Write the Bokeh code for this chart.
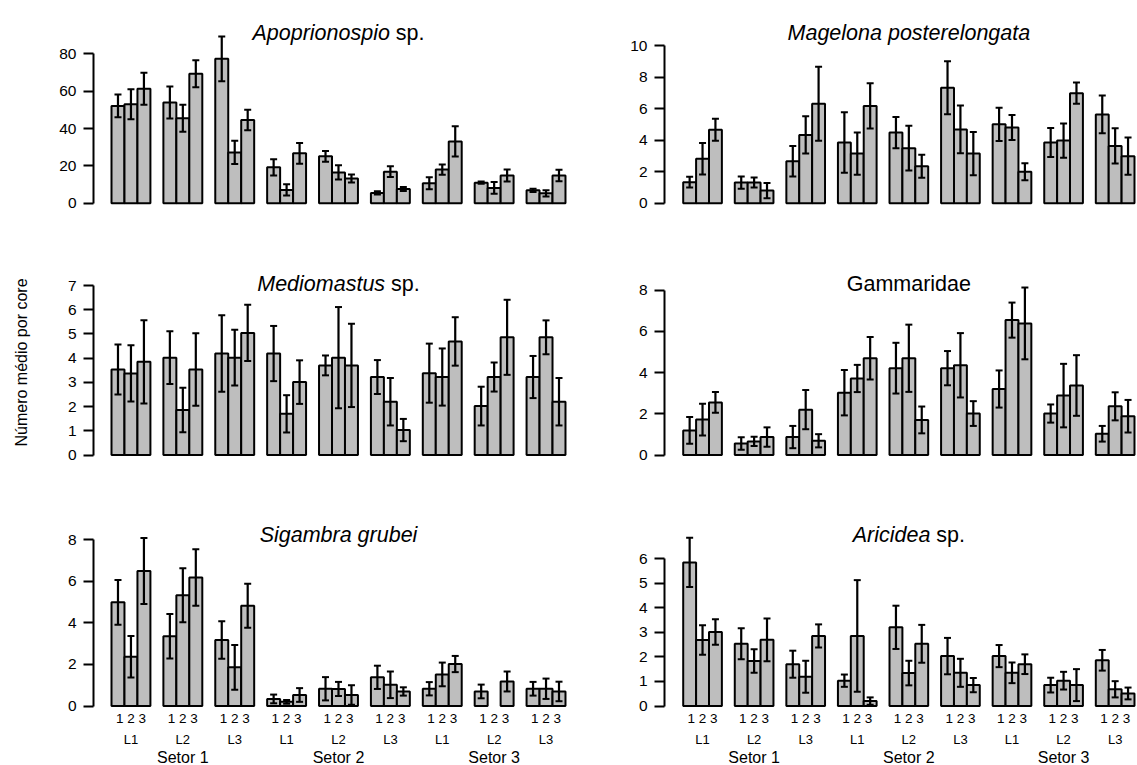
from bokeh.plotting import figure
from bokeh.models import ColumnDataSource, Whisker, TeeHead, FixedTicker, Range1d
from bokeh.layouts import column, row
from bokeh.embed import file_html
from bokeh.resources import INLINE
from bokeh.core.properties import value

# ---------------- data ----------------
setores = ["Setor 1", "Setor 2", "Setor 3"]
locais = ["L1", "L2", "L3"]
pontos = "1 2 3"
y_label = "Número médio por core"

apo_mean = [52.1, 53.0, 61.3, 53.9, 45.5, 69.3, 77.3, 27.2, 44.6,
            19.2, 7.1, 26.7, 25.1, 16.5, 13.2, 5.5, 16.9, 7.6,
            10.7, 18.0, 33.1, 11.0, 8.2, 14.8, 6.9, 5.3, 14.8]
apo_se = [6.05, 8.0, 8.55, 8.6, 7.2, 7.25, 11.95, 6.2, 5.5,
          4.35, 3.0, 5.6, 2.9, 3.85, 2.15, 0.9, 2.85, 1.05,
          3.2, 2.75, 8.15, 0.65, 3.1, 3.2, 0.9, 1.65, 3.1]

mag_mean = [1.33, 2.82, 4.66, 1.31, 1.31, 0.80, 2.66, 4.33, 6.31,
            3.85, 3.15, 6.17, 4.48, 3.49, 2.34, 7.32, 4.68, 3.15,
            5.00, 4.80, 2.00, 3.85, 3.97, 6.98, 5.63, 3.63, 2.98]
mag_se = [0.34, 1.0, 0.7, 0.39, 0.32, 0.48, 0.96, 1.18, 2.35,
          1.92, 1.34, 1.44, 0.99, 1.42, 0.73, 1.68, 1.51, 1.37,
          1.06, 0.8, 0.54, 0.92, 1.09, 0.68, 1.2, 1.12, 1.18]

med_mean = [3.53, 3.37, 3.85, 4.02, 1.86, 3.53, 4.19, 4.02, 5.04,
            4.19, 1.70, 3.01, 3.70, 4.02, 3.70, 3.22, 2.20, 1.03,
            3.38, 3.22, 4.69, 2.02, 3.22, 4.86, 3.22, 4.86, 2.20]
med_se = [1.03, 1.16, 1.72, 1.09, 0.92, 1.5, 1.58, 1.15, 1.16,
          1.14, 0.77, 0.9, 0.41, 2.09, 1.72, 0.7, 0.98, 0.46,
          1.22, 1.18, 1.0, 0.8, 0.6, 1.55, 0.87, 0.7, 0.98]

gam_mean = [1.19, 1.72, 2.55, 0.56, 0.66, 0.87, 0.87, 2.20, 0.69,
            3.02, 3.71, 4.69, 4.21, 4.69, 1.70, 4.21, 4.35, 2.01,
            3.20, 6.54, 6.38, 2.01, 2.88, 3.37, 1.03, 2.36, 1.88]
gam_se = [0.65, 0.77, 0.5, 0.3, 0.22, 0.47, 0.54, 0.95, 0.32,
          1.1, 0.66, 1.03, 1.23, 1.63, 0.65, 0.83, 1.56, 0.6,
          0.9, 0.85, 1.74, 0.44, 1.54, 1.47, 0.38, 0.68, 0.79]

sig_mean = [4.99, 2.37, 6.50, 3.36, 5.33, 6.18, 3.18, 1.86, 4.83,
            0.34, 0.20, 0.53, 0.83, 0.82, 0.53, 1.38, 1.02, 0.70,
            0.83, 1.52, 2.02, 0.70, 0.00, 1.18, 0.83, 0.83, 0.70]
sig_se = [1.08, 1.0, 1.59, 1.07, 1.3, 1.36, 0.9, 1.08, 1.06,
          0.21, 0.09, 0.33, 0.56, 0.34, 0.47, 0.56, 0.64, 0.2,
          0.32, 0.57, 0.39, 0.33, 0.0, 0.48, 0.33, 0.49, 0.47]

ari_mean = [5.84, 2.68, 3.01, 2.53, 1.83, 2.69, 1.70, 1.19, 2.85,
            1.03, 2.85, 0.20, 3.20, 1.34, 2.53, 2.03, 1.35, 0.85,
            2.03, 1.35, 1.70, 0.85, 1.03, 0.85, 1.86, 0.68, 0.51]
ari_se = [1.0, 0.6, 0.52, 0.63, 0.48, 0.87, 0.55, 0.65, 0.47,
          0.25, 2.27, 0.15, 0.88, 0.5, 0.77, 0.74, 0.57, 0.29,
          0.45, 0.42, 0.4, 0.3, 0.36, 0.65, 0.42, 0.33, 0.24]

apo_ticks = [0, 20, 40, 60, 80]
mag_ticks = [0, 2, 4, 6, 8, 10]
med_ticks = [0, 1, 2, 3, 4, 5, 6, 7]
gam_ticks = [0, 2, 4, 6, 8]
sig_ticks = [0, 2, 4, 6, 8]
ari_ticks = [0, 1, 2, 3, 4, 5, 6]

panels = [
    dict(it="Apoprionospio", nm="sp.", mean=apo_mean, se=apo_se, ticks=apo_ticks),
    dict(it="Magelona posterelongata", nm="", mean=mag_mean, se=mag_se, ticks=mag_ticks),
    dict(it="Mediomastus", nm="sp.", mean=med_mean, se=med_se, ticks=med_ticks),
    dict(it="", nm="Gammaridae", mean=gam_mean, se=gam_se, ticks=gam_ticks),
    dict(it="Sigambra grubei", nm="", mean=sig_mean, se=sig_se, ticks=sig_ticks),
    dict(it="Aricidea", nm="sp.", mean=ari_mean, se=ari_se, ticks=ari_ticks),
]

# ---------------- layout constants (pixels) ----------------
FONT = "Liberation Sans"
FIG_W = [568, 569]
FRAME_LEFT = [93, 96]          # frame left inside each figure
BAR1_PX = [111, 682.7 - 568]   # left edge of first bar inside figure
PX_PER_UNIT = [12.971, 12.894]
ROW_BOX = [(0, 236), (236, 488), (488, 765)]
ZERO_PX = [202.7, 454.5, 705.5]
TOP_TICK_PX = [53.3, 45.0, 285.0, 289.5, 539.3, 558.0]
TITLE_SIZE = 21.5

AW = {'A': 667, 'M': 833, 'G': 778, 'S': 667, 'a': 556, 'b': 556, 'c': 500, 'd': 556,
      'e': 556, 'g': 556, 'i': 222, 'l': 222, 'm': 833, 'n': 556, 'o': 556, 'p': 556,
      'r': 333, 's': 500, 't': 278, 'u': 556, ' ': 278, '.': 278}


def tw(s, size):
    return sum(AW.get(c, 556) for c in s) / 1000.0 * size


def make_panel(idx):
    pnl = panels[idx]
    r, c = divmod(idx, 2)
    fw = FIG_W[c]
    fl = FRAME_LEFT[c]
    k = PX_PER_UNIT[c]
    top, bot = ROW_BOX[r]
    zero = ZERO_PX[r] - top
    h = bot - top
    ymax_tick = pnl["ticks"][-1]
    scale = (ZERO_PX[r] - TOP_TICK_PX[idx]) / ymax_tick

    xs = 1 - (BAR1_PX[c] - fl) / k
    xe = xs + (fw - fl) / k
    ys = -(h - zero) / scale
    ye = zero / scale

    p = figure(width=fw, height=h, x_range=Range1d(xs, xe), y_range=Range1d(ys, ye),
               output_backend="svg", toolbar_location=None, x_axis_location=None,
               min_border_left=fl, min_border_right=0, min_border_top=0, min_border_bottom=0,
               outline_line_color=None, background_fill_color="white", border_fill_color="white")
    p.grid.visible = False

    ax = p.yaxis[0]
    ax.ticker = FixedTicker(ticks=pnl["ticks"])
    ax.bounds = (0, ymax_tick)
    ax.axis_line_width = 2
    ax.axis_line_color = "black"
    ax.major_tick_line_width = 2
    ax.major_tick_line_color = "black"
    ax.major_tick_out = 10
    ax.major_tick_in = 0
    ax.minor_tick_line_color = None
    ax.major_label_standoff = 7
    ax.major_label_text_font = FONT
    ax.major_label_text_font_size = "15.5px"
    ax.major_label_text_color = "black"
    if idx == 2:
        ax.axis_label = y_label
        ax.axis_label_text_font = FONT
        ax.axis_label_text_font_size = "16px"
        ax.axis_label_text_font_style = "normal"
        ax.axis_label_text_color = "black"
        ax.axis_label_standoff = 35

    xb, tops, base, up, lo = [], [], [], [], []
    for g in range(9):
        for i in range(3):
            j = g * 3 + i
            m = pnl["mean"][j]
            s = pnl["se"][j]
            if m <= 0:
                continue
            x = 4 * g + i + 1.5
            xb.append(x)
            tops.append(m)
            base.append(x)
            up.append(m + s)
            lo.append(m - s)
    src = ColumnDataSource(dict(x=xb, top=tops))
    p.vbar(x="x", top="top", bottom=0, width=1, source=src,
           fill_color="#BEBEBE", line_color="black", line_width=2)
    wsrc = ColumnDataSource(dict(base=base, upper=up, lower=lo))
    wk = Whisker(source=wsrc, base="base", upper="upper", lower="lower",
                 line_width=2.2, line_color="black", level="annotation",
                 upper_head=TeeHead(size=7, line_width=2, line_color="black"),
                 lower_head=TeeHead(size=7, line_width=2, line_color="black"))
    p.add_layout(wk)

    # title (italic + normal parts), centred on the bar area
    center = 18.5
    it, nm = pnl["it"], pnl["nm"]
    w_it = tw(it, TITLE_SIZE)
    w_sp = tw(" ", TITLE_SIZE) if (it and nm) else 0
    w_nm = tw(nm, TITLE_SIZE)
    W = w_it + w_sp + w_nm
    ty = 170.7 / scale
    x0 = center - (W / 2) / k
    if it:
        p.text(x=[x0], y=[ty], text=[it], text_font=value(FONT), text_font_style="italic",
               text_font_size=f"{TITLE_SIZE}px", text_align="left", text_baseline="alphabetic",
               text_color="black")
    if nm:
        p.text(x=[x0 + (w_it + w_sp) / k], y=[ty], text=[nm], text_font=value(FONT),
               text_font_style="normal", text_font_size=f"{TITLE_SIZE}px", text_align="left",
               text_baseline="alphabetic", text_color="black")

    if r == 2:
        gx = [4 * g + 2.5 for g in range(9)]
        p.text(x=gx, y=[-12.0 / scale] * 9, text=[pontos] * 9, text_font=value(FONT),
               text_font_size="13.5px", text_align="center", text_baseline="middle", text_color="black")
        p.text(x=gx, y=[-33.5 / scale] * 9, text=[locais[g % 3] for g in range(9)],
               text_font=value(FONT), text_font_size="13px", text_align="center",
               text_baseline="middle", text_color="black")
        sx = [12 * s + 6.5 for s in range(3)]
        p.text(x=sx, y=[-51.5 / scale] * 3, text=setores, text_font=value(FONT),
               text_font_size="16px", text_align="center", text_baseline="middle", text_color="black")
    return p


figs = [make_panel(i) for i in range(6)]
layout = column(row(figs[0], figs[1], spacing=0), row(figs[2], figs[3], spacing=0),
                row(figs[4], figs[5], spacing=0), spacing=0)

open("out.html", "w").write(file_html(layout, INLINE))
